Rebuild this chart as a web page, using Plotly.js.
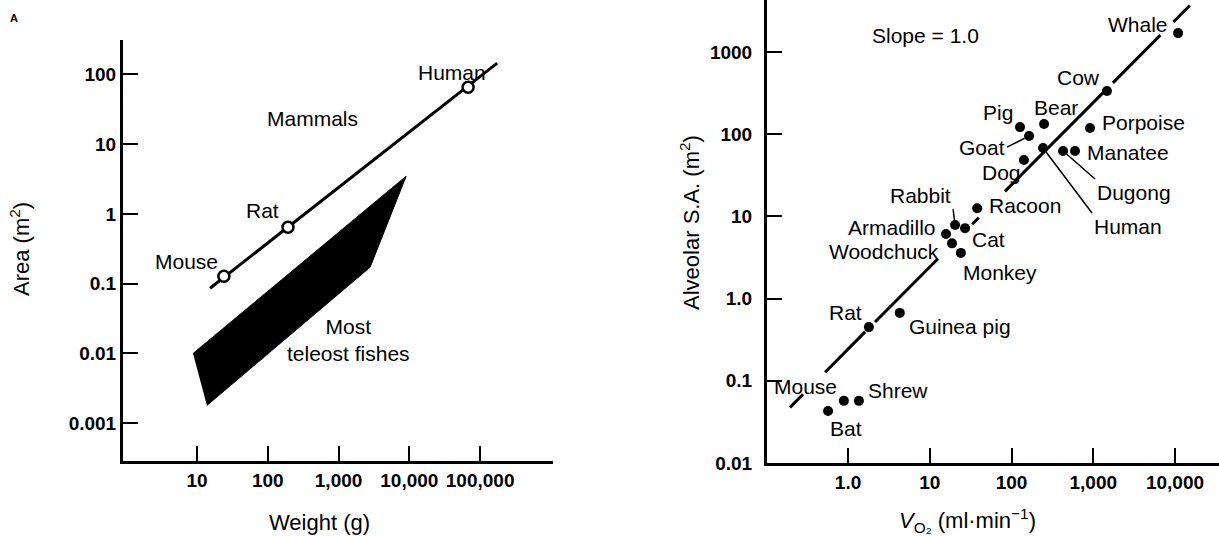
<!DOCTYPE html>
<html><head><meta charset="utf-8">
<script src="https://cdn.plot.ly/plotly-3.0.1.min.js"></script>
<style>html,body{margin:0;padding:0;background:#fff;} #chart{width:1219px;height:536px;}</style>
</head><body><div id="chart"></div>
<script>
// ---------- Panel A: area vs body weight ----------
const mammalNames = ['Mouse', 'Rat', 'Human'];
const mammalWeight = [24, 193, 67600];
const mammalArea = [0.128, 0.643, 65];
const mammalLineWeight = [15.3, 174000];
const mammalLineArea = [0.086, 144];
const fishWeight = [8.8, 9000, 2790, 13.8];
const fishArea = [0.010, 3.46, 0.172, 0.0018];
const weightTicks = [10, 100, 1000, 10000, 100000];
const weightTickText = ['10', '100', '1,000', '10,000', '100,000'];
const areaTicks = [0.001, 0.01, 0.1, 1, 10, 100];
const areaTickText = ['0.001', '0.01', '0.1', '1', '10', '100'];

// ---------- Panel B: alveolar surface area vs VO2 ----------
const animals = ['Whale', 'Cow', 'Bear', 'Pig', 'Goat', 'Porpoise', 'Human', 'Manatee', 'Dugong', 'Dog',
  'Racoon', 'Rabbit', 'Cat', 'Armadillo', 'Woodchuck', 'Monkey', 'Rat', 'Guinea pig', 'Mouse', 'Shrew', 'Bat'];
const vo2 = [10900, 1470, 250, 127, 164, 912, 243, 598, 427, 142,
  38, 20.4, 27, 15.8, 18.7, 24, 1.8, 4.3, 0.89, 1.36, 0.57];
const alveolarSA = [1700, 336, 133, 122, 95, 119, 68, 62.5, 62.5, 48.5,
  12.6, 7.85, 7.2, 6.1, 4.7, 3.6, 0.45, 0.67, 0.057, 0.057, 0.043];
// slope = 1.0 line, drawn in broken segments as in the original
const slopeLineVo2 = [0.195, 0.282, null, 0.525, 1.62, null, 2.14, 12.6, null, 33.1, 39.8, null,
  83.2, 1479, null, 1738, 6607, null, 9550, 15136];
const slopeLineSA = [0.0475, 0.0686, null, 0.127, 0.394, null, 0.52, 3.06, null, 8.04, 9.66, null,
  20.2, 359, null, 422, 1607, null, 2323, 3681];
const vo2Ticks = [1, 10, 100, 1000, 10000];
const vo2TickText = ['1.0', '10', '100', '1,000', '10,000'];
const saTicks = [0.01, 0.1, 1, 10, 100, 1000];
const saTickText = ['0.01', '0.1', '1.0', '10', '100', '1000'];

// ---------- styling ----------
const FONT = 'Liberation Sans, Arial, Helvetica, sans-serif';
const LBL = 21;
const TTL = 22;

const traces = [
  {x: fishWeight, y: fishArea, type: 'scatter', mode: 'lines', fill: 'toself',
   fillcolor: '#000', line: {color: '#000', width: 1}, xaxis: 'x', yaxis: 'y', hoverinfo: 'skip'},
  {x: mammalLineWeight, y: mammalLineArea, type: 'scatter', mode: 'lines',
   line: {color: '#000', width: 3}, xaxis: 'x', yaxis: 'y'},
  {x: mammalWeight, y: mammalArea, text: mammalNames, type: 'scatter', mode: 'markers',
   marker: {size: 11, color: '#fff', line: {color: '#000', width: 2.5}}, xaxis: 'x', yaxis: 'y'},
  {x: slopeLineVo2, y: slopeLineSA, type: 'scatter', mode: 'lines', connectgaps: false,
   line: {color: '#000', width: 3}, xaxis: 'x2', yaxis: 'y2'},
  {x: vo2, y: alveolarSA, text: animals, type: 'scatter', mode: 'markers',
   marker: {size: 10, color: '#000'}, xaxis: 'x2', yaxis: 'y2'}
];

// label placement (pixel offsets from each point)
const placeA = {Mouse: [-37, -15], Rat: [-25, -17], Human: [-16, -15]};
const placeB = {
  Whale: [-40, -9], Cow: [-28, -13], Bear: [12, -17], Pig: [-22, -15], Porpoise: [54, -6],
  Manatee: [53, 1], Dog: [-22, 12], Racoon: [48, -3], Cat: [23, 11], Armadillo: [-54, -7],
  Woodchuck: [-68, 8], Monkey: [39, 20], Rat: [-23, -15], 'Guinea pig': [60, 14],
  Mouse: [-38, -14], Shrew: [39, -10], Bat: [18, 18]
};
const leaderB = {
  Goat: {ax: -22, ay: 11, xanchor: 'right', yanchor: 'middle'},
  Human: {ax: 49, ay: 65, xanchor: 'left', yanchor: 'top'},
  Dugong: {ax: 32, ay: 28, xanchor: 'left', yanchor: 'top'},
  Rabbit: {ax: -2, ay: -16, xanchor: 'right', yanchor: 'bottom'}
};

const ann = [];
mammalNames.forEach((n, i) => {
  const p = placeA[n];
  ann.push({x: Math.log10(mammalWeight[i]), y: Math.log10(mammalArea[i]), xref: 'x', yref: 'y',
    text: n, showarrow: false, xanchor: 'center', yanchor: 'middle', xshift: p[0], yshift: -p[1],
    font: {size: LBL}});
});
animals.forEach((n, i) => {
  const base = {x: Math.log10(vo2[i]), y: Math.log10(alveolarSA[i]), xref: 'x2', yref: 'y2',
    text: n, font: {size: LBL}};
  if (leaderB[n]) {
    const L = leaderB[n];
    ann.push(Object.assign(base, {showarrow: true, arrowhead: 0, arrowwidth: 1.5, arrowcolor: '#000',
      ax: L.ax, ay: L.ay, xanchor: L.xanchor, yanchor: L.yanchor, standoff: 5}));
  } else {
    const p = placeB[n];
    ann.push(Object.assign(base, {showarrow: false, xanchor: 'center', yanchor: 'middle',
      xshift: p[0], yshift: -p[1]}));
  }
});
function paperText(x, y, text, size, angle) {
  return {x: x, y: y, xref: 'paper', yref: 'paper', text: text, showarrow: false,
    xanchor: 'center', yanchor: 'middle', textangle: angle || 0, font: {size: size}};
}
// region labels
ann.push({x: Math.log10(422), y: Math.log10(23.4), xref: 'x', yref: 'y', text: 'Mammals',
  showarrow: false, xanchor: 'center', yanchor: 'middle', font: {size: LBL}});
ann.push({x: Math.log10(1361), y: Math.log10(0.0155), xref: 'x', yref: 'y', text: 'Most<br>teleost fishes',
  showarrow: false, xanchor: 'center', yanchor: 'middle', align: 'center', font: {size: LBL}});
ann.push({x: Math.log10(8.75), y: Math.log10(1611), xref: 'x2', yref: 'y2', text: 'Slope = 1.0',
  showarrow: false, xanchor: 'center', yanchor: 'middle', font: {size: LBL}});
ann.push(paperText(0.0115, 0.966, '<b>A</b>', 11));
// axis titles
ann.push(paperText(0.2625, 0.026, 'Weight (g)', TTL));
ann.push(paperText(0.794, 0.029, '<i>V</i><sub>O₂</sub> (ml·min<sup>−1</sup>)', TTL));
ann.push(paperText(0.0164, 0.5354, 'Area (m<sup>2</sup>)', TTL, -90));
ann.push(paperText(0.566, 0.5858, 'Alveolar S.A. (m<sup>2</sup>)', TTL, -90));

const axisCommon = {type: 'log', showgrid: false, zeroline: false, showline: true, linecolor: '#000',
  linewidth: 3, ticks: 'inside', ticklen: 15, tickwidth: 2, tickcolor: '#000',
  tickfont: {size: 19, color: '#000', weight: 'bold'}, fixedrange: true};

const layout = {
  width: 1219, height: 536, margin: {l: 0, r: 0, t: 0, b: 0}, showlegend: false,
  paper_bgcolor: '#fff', plot_bgcolor: 'rgba(0,0,0,0)',
  font: {family: FONT, color: '#000'},
  xaxis: Object.assign({}, axisCommon, {domain: [0.1009, 0.4537], range: [-0.045, 6.03], anchor: 'y',
    tickvals: weightTicks, ticktext: weightTickText}),
  yaxis: Object.assign({}, axisCommon, {domain: [0.1399, 0.9254], range: [-3.54, 2.49], anchor: 'x',
    tickvals: areaTicks, ticktext: areaTickText}),
  xaxis2: Object.assign({}, axisCommon, {domain: [0.6292, 1.0], range: [-0.991, 4.538], anchor: 'y2',
    tickvals: vo2Ticks, ticktext: vo2TickText}),
  yaxis2: Object.assign({}, axisCommon, {domain: [0.1362, 1.0], range: [-2, 3.633], anchor: 'x2',
    tickvals: saTicks, ticktext: saTickText, ticklabelstandoff: 8}),
  annotations: ann
};

Plotly.newPlot('chart', traces, layout, {displayModeBar: false, staticPlot: true});
</script>
</body></html>
